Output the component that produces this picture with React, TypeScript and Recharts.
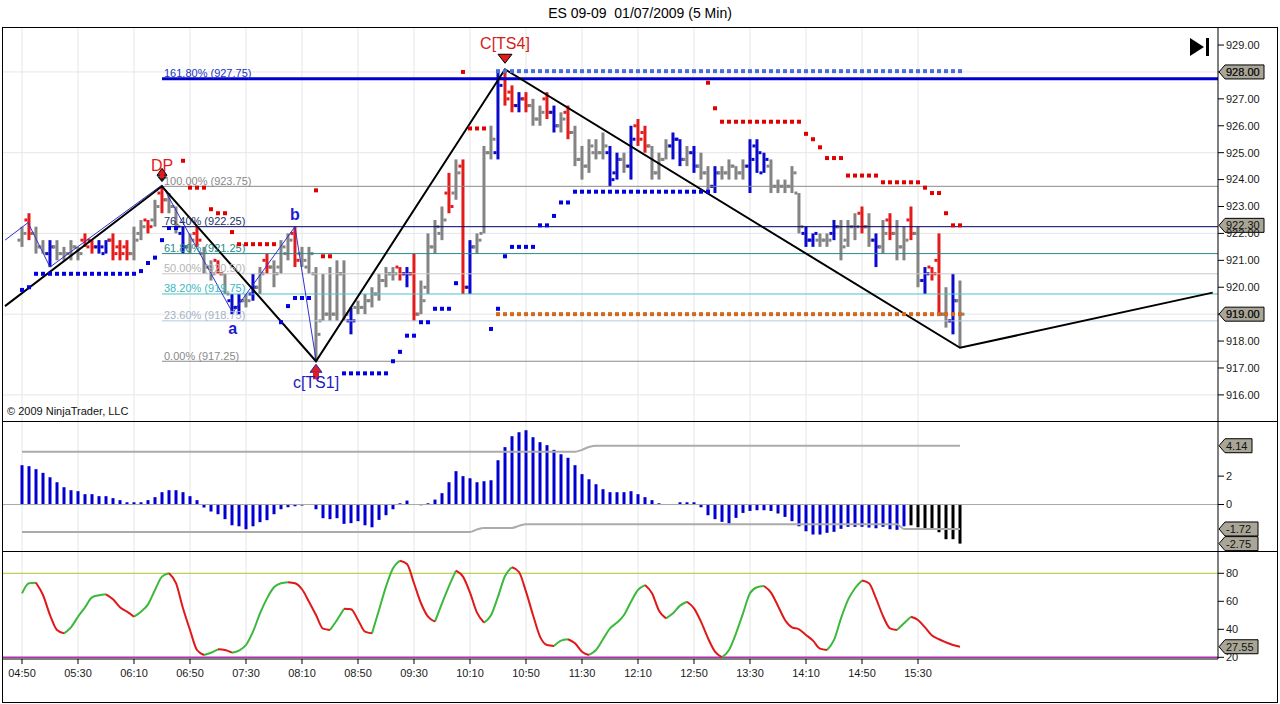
import React from "react";
import {
  ComposedChart,
  Bar,
  Line,
  Scatter,
  XAxis,
  YAxis,
  CartesianGrid,
  ReferenceLine,
  ReferenceDot,
} from "recharts";

const FONT = '"Liberation Sans", Arial, sans-serif';
const X_DOMAIN: [number, number] = [-2.714, 170.857];
const X_END = 170.857;

// time axis: one label every 8 five-minute bars
const timeLabels = ["04:50", "05:30", "06:10", "06:50", "07:30", "08:10", "08:50", "09:30", "10:10", "10:50", "11:30", "12:10", "12:50", "13:30", "14:10", "14:50", "15:30"];
const timeTicks = timeLabels.map((_, k) => k * 8);

// ES 09-09 5 min bars
const opens = [
  921.75, 922.5, 922.0, 921.5, 921.25, 921.5, 921.25, 921.25, 921.5, 921.75,
  921.75, 921.5, 921.25, 921.75, 921.5, 921.5, 921.25, 922.0, 922.5, 922.5,
  923.5, 923.25, 923.0, 922.0, 921.5, 922.0, 921.25, 920.75, 921.0, 920.5,
  919.5, 919.25, 919.5, 919.75, 920.0, 921.0, 920.75, 920.75, 921.25, 922.0,
  921.25, 920.75, 920.5, 918.75, 919.0, 919.0, 920.5, 918.75, 919.25, 919.25,
  919.5, 919.75, 920.25, 920.5, 920.75, 920.5, 920.5, 919.0, 920.0, 921.5,
  922.0, 923.5, 923.5, 924.5, 920.0, 921.5, 922.0, 925.0, 925.0, 927.75,
  927.25, 926.75, 927.0, 926.75, 926.25, 927.0, 926.5, 926.0, 926.5, 925.75,
  924.75, 924.5, 925.0, 925.0, 925.0, 924.25, 924.75, 924.5, 926.0, 925.75,
  925.25, 924.25, 924.75, 925.25, 925.5, 924.75, 925.0, 924.5, 924.25, 923.75,
  924.25, 924.25, 924.5, 924.25, 924.5, 925.25, 924.25, 924.5, 923.75, 923.75,
  923.75, 923.5, 922.0, 921.75, 921.75, 921.75, 922.0, 922.25, 921.75, 922.25,
  922.75, 922.25, 921.75, 921.5, 922.5, 922.0, 921.5, 922.5, 922.0, 920.25,
  920.75, 921.0, 919.0, 918.75, 919.5,
];
const highs = [
  922.25, 922.75, 922.25, 921.75, 921.75, 921.75, 921.5, 921.75, 921.5, 922.0,
  921.75, 921.75, 921.75, 922.0, 921.75, 921.75, 922.25, 922.5, 922.5, 923.25,
  923.75, 923.5, 923.0, 922.25, 922.0, 922.25, 921.5, 921.0, 921.0, 920.5,
  919.75, 919.75, 919.75, 920.5, 920.75, 921.25, 921.0, 921.75, 922.0, 922.25,
  921.5, 921.5, 920.75, 920.5, 920.75, 921.0, 921.0, 919.25, 919.5, 919.75,
  920.0, 920.5, 920.75, 920.75, 920.75, 920.75, 921.25, 920.25, 922.0, 922.5,
  923.0, 924.25, 924.75, 924.75, 921.75, 922.0, 925.25, 926.0, 928.0, 928.0,
  927.5, 927.25, 927.25, 927.0, 926.75, 927.25, 926.75, 926.5, 926.75, 926.0,
  925.25, 925.5, 925.5, 925.75, 925.25, 925.0, 925.0, 926.0, 926.25, 926.0,
  925.25, 925.0, 925.5, 925.75, 925.5, 925.25, 925.25, 925.0, 924.5, 924.5,
  924.5, 924.75, 924.5, 924.75, 925.5, 925.5, 925.0, 924.75, 924.0, 924.0,
  924.5, 923.5, 922.25, 922.0, 922.0, 922.0, 922.5, 922.5, 922.5, 922.75,
  923.0, 922.75, 922.0, 922.5, 922.75, 922.5, 922.25, 923.0, 922.25, 920.75,
  920.75, 922.0, 920.0, 920.5, 920.25,
];
const lows = [
  921.5, 921.75, 921.25, 921.25, 920.75, 921.0, 921.0, 921.0, 921.0, 921.5,
  921.25, 921.25, 921.25, 921.0, 921.0, 921.0, 921.0, 921.75, 922.0, 922.25,
  922.75, 922.75, 922.0, 921.25, 921.25, 921.5, 920.5, 920.25, 920.5, 919.75,
  919.0, 919.0, 919.25, 919.5, 919.75, 920.5, 920.0, 920.5, 921.0, 920.75,
  920.75, 920.5, 917.25, 918.75, 918.75, 918.75, 918.75, 918.25, 919.0, 919.0,
  919.25, 919.5, 920.0, 920.25, 920.25, 920.0, 918.75, 919.0, 919.75, 921.25,
  921.75, 922.75, 923.25, 919.75, 919.75, 921.25, 922.0, 924.75, 924.75, 926.75,
  926.5, 926.5, 926.5, 926.0, 926.0, 926.25, 925.75, 925.75, 925.5, 924.5,
  924.0, 924.25, 924.75, 924.75, 923.75, 924.0, 924.25, 924.0, 925.25, 925.0,
  924.0, 924.0, 924.75, 924.75, 924.5, 924.5, 924.25, 924.0, 923.5, 923.5,
  924.0, 924.0, 924.0, 924.0, 923.5, 924.25, 924.25, 923.5, 923.5, 923.5,
  923.5, 922.0, 921.5, 921.5, 921.5, 921.5, 921.75, 921.0, 921.5, 921.75,
  922.0, 921.5, 920.75, 921.25, 921.75, 921.0, 921.0, 921.75, 920.0, 919.75,
  920.25, 919.0, 918.5, 918.25, 917.75,
];
const closes = [
  922.0, 922.0, 921.5, 921.25, 921.5, 921.25, 921.25, 921.5, 921.25, 921.5,
  921.5, 921.5, 921.75, 921.25, 921.25, 921.25, 921.75, 922.25, 922.25, 923.0,
  923.25, 923.0, 922.25, 921.5, 921.75, 921.75, 920.75, 920.5, 920.5, 919.75,
  919.25, 919.5, 919.5, 920.0, 920.5, 920.75, 920.5, 921.5, 921.75, 921.0,
  921.0, 921.25, 918.25, 919.0, 919.0, 920.5, 919.0, 918.75, 919.25, 919.5,
  919.75, 920.25, 920.5, 920.5, 920.5, 920.5, 919.0, 919.5, 921.5, 922.25,
  922.5, 923.0, 924.25, 920.0, 921.5, 921.75, 925.0, 925.5, 927.5, 927.0,
  926.75, 927.0, 926.75, 926.25, 926.5, 926.5, 926.0, 926.25, 925.75, 924.75,
  924.5, 925.25, 925.0, 925.25, 924.0, 924.75, 924.5, 925.5, 925.5, 925.25,
  924.25, 924.75, 925.25, 925.5, 924.75, 925.0, 924.5, 924.25, 923.75, 924.25,
  924.25, 924.5, 924.25, 924.5, 924.75, 925.0, 924.75, 923.75, 923.75, 923.75,
  924.25, 922.25, 921.75, 922.0, 921.75, 921.75, 922.25, 921.5, 922.25, 922.25,
  922.25, 921.75, 921.5, 922.0, 922.0, 921.5, 921.75, 922.0, 920.25, 920.5,
  920.5, 919.0, 918.75, 919.5, 919.0,
];
// paint bar colour per bar: g = neutral, r = red, b = blue
const paint =
  "grggbggggr" + "rbbrrrggrg" + "rggbgrggrg" + "bbgbgrgggr" + "gggggggbgg" +
  "ggggrbrggg" + "grgrbgggbr" + "rbrggrbgrg" + "ggggbbgbrr" + "gggbbgbggb" +
  "ggggbbbggg" + "ggbbggbggg" + "rgbgrggrgb" + "rrgbg";

// trailing stops, read as runs [price, firstBar, lastBar]
const blueStopRuns: [number, number, number][] = [
  [919.9, 0, 0], [920.0, 1, 1], [920.5, 2, 16], [920.6, 17, 17], [920.9, 18, 18], [921.1, 19, 19],
  [921.75, 20, 20], [922.2, 21, 22], [918.7, 37, 37], [919.3, 38, 38], [919.6, 39, 41],
  [916.8, 46, 52], [917.25, 53, 53], [917.6, 54, 54], [918.2, 55, 56], [918.7, 57, 58],
  [919.2, 59, 61], [920.15, 62, 62], [918.45, 67, 67], [919.2, 68, 68], [921.15, 69, 69],
  [921.5, 70, 73], [922.3, 74, 75], [922.65, 76, 76], [923.15, 77, 78], [923.55, 79, 98],
];
const redStopRuns: [number, number, number][] = [
  [924.7, 23, 23], [923.7, 24, 26], [922.9, 27, 27], [922.75, 28, 29], [922.05, 30, 30],
  [921.6, 31, 36], [923.6, 42, 42], [921.15, 43, 44], [928.0, 63, 63], [925.9, 64, 66],
  [927.6, 98, 98], [926.65, 99, 99], [926.15, 100, 111], [925.7, 112, 112], [925.5, 113, 113],
  [925.2, 114, 114], [924.8, 115, 117], [924.15, 118, 122], [923.9, 123, 128], [923.7, 129, 129],
  [923.5, 130, 131], [922.75, 132, 132], [922.3, 133, 134],
];
const targetUpRuns: [number, number, number][] = [[928.03, 68, 134]];
const targetDownRuns: [number, number, number][] = [[919.0, 68, 134]];

// wave lines
const zigzagMain = [
  { i: -2.43, v: 919.3 }, { i: 20, v: 923.75 }, { i: 42, v: 917.25 },
  { i: 69, v: 928.1 }, { i: 134, v: 917.75 }, { i: 170.1, v: 919.8 },
];
const zigzagMinor = [
  { i: -2.43, v: 921.75 }, { i: 0.86, v: 922.4 }, { i: 4, v: 920.75 }, { i: 20, v: 923.8 },
  { i: 30.1, v: 919.05 }, { i: 39, v: 922.25 }, { i: 42, v: 917.3 },
];

// fibonacci levels drawn from the DP bar
const fibStart = 20;
const fibPct = ["161.80%", "100.00%", "76.40%", "61.80%", "50.00%", "38.20%", "23.60%", "0.00%"];
const fibPrice = [927.75, 923.75, 922.25, 921.25, 920.5, 919.75, 918.75, 917.25];
const fibLine = ["#0000CC", "#8A8A8A", "#000066", "#2A8A8A", "#C8C8C8", "#4CC4C4", "#B8C6DC", "#8A8A8A"];
const fibText = ["#2233BB", "#8A8A8A", "#223366", "#2A8A8A", "#B4B4B4", "#3CB8C0", "#A4B2C8", "#8A8A8A"];

// oscillator histogram and its bands
const osc = [
  2.77, 2.70, 2.49, 2.23, 1.92, 1.57, 1.22, 1.01, 0.94, 0.73,
  0.73, 0.59, 0.59, 0.45, 0.31, 0.16, 0.16, 0.16, 0.31, 0.52,
  0.87, 1.01, 1.01, 0.87, 0.59, 0.31, -0.21, -0.49, -0.68, -1.03,
  -1.46, -1.53, -1.74, -1.53, -1.24, -1.10, -0.68, -0.33, -0.19, -0.12,
  -0.07, 0.0, -0.33, -0.96, -1.03, -0.96, -1.36, -1.31, -1.17, -1.46,
  -1.60, -1.08, -0.75, -0.33, 0.09, 0.28, 0.0, -0.05, 0.09, 0.35,
  0.80, 1.57, 2.35, 2.00, 1.85, 1.57, 1.64, 1.71, 3.12, 4.04,
  4.81, 5.09, 5.23, 4.74, 4.39, 4.18, 3.85, 3.54, 3.29, 2.77,
  2.14, 1.78, 1.43, 1.08, 0.87, 0.87, 0.87, 0.94, 0.73, 0.52,
  0.31, 0.09, 0.02, 0.0, 0.16, 0.16, 0.16, -0.19, -0.75, -1.03,
  -1.22, -1.34, -0.94, -0.59, -0.45, -0.40, -0.40, -0.45, -0.63, -0.87,
  -1.17, -1.53, -1.88, -2.11, -2.11, -1.99, -1.92, -1.71, -1.57, -1.57,
  -1.57, -1.62, -1.67, -1.57, -1.74, -1.78, -1.53, -1.46, -1.60, -1.67,
  -1.74, -1.95, -2.44, -2.44, -2.75,
];
const oscBlackFrom = 127;
const upperBandRuns: [number, number, number][] = [[3.72, 0, 79], [3.85, 80, 80], [4.05, 81, 81], [4.14, 82, 134]];
const lowerBandRuns: [number, number, number][] = [[-1.93, 0, 64], [-1.75, 65, 65], [-1.65, 66, 70], [-1.5, 71, 71], [-1.39, 72, 125], [-1.72, 126, 134]];

// stochastic
const stoch = [
  65.7, 72.9, 73.3, 64.5, 50.2, 39.5, 37.1, 41.4, 49.0, 55.7,
  62.8, 64.3, 65.0, 61.4, 55.7, 52.6, 49.0, 52.6, 57.8, 68.1,
  77.6, 80.0, 72.9, 55.0, 39.5, 25.2, 21.7, 23.3, 25.7, 25.2,
  23.3, 24.8, 28.8, 38.3, 51.4, 62.1, 70.0, 72.9, 73.6, 72.9,
  68.6, 59.7, 50.2, 40.5, 39.5, 46.7, 54.7, 54.3, 46.7, 38.3,
  37.1, 53.8, 70.5, 83.6, 89.0, 86.6, 72.9, 58.6, 49.0, 45.5,
  58.6, 70.9, 81.9, 77.6, 66.2, 51.9, 44.8, 50.0, 63.3, 78.1,
  84.3, 80.9, 66.9, 50.2, 34.8, 28.8, 28.1, 31.9, 32.9, 30.0,
  24.0, 21.7, 25.2, 32.9, 40.7, 44.8, 50.2, 59.7, 68.1, 71.6,
  65.7, 53.3, 47.8, 51.4, 56.9, 59.7, 55.0, 45.5, 33.6, 24.0,
  20.0, 25.2, 37.1, 51.4, 65.7, 70.0, 70.9, 66.2, 56.7, 46.7,
  41.4, 40.0, 36.0, 31.9, 26.2, 25.2, 32.4, 47.8, 61.0, 69.3,
  74.8, 72.9, 62.1, 49.5, 40.7, 39.5, 44.3, 49.0, 46.7, 41.4,
  35.5, 32.9, 30.7, 28.8, 27.55,
];

// ---------- derived tables ----------
const PAINT: Record<string, string> = { g: "#848484", r: "#E41B1B", b: "#0A0ACC" };
const expandRuns = (runs: [number, number, number][]) =>
  runs.flatMap(([v, a, b]) => Array.from({ length: b - a + 1 }, (_, k) => ({ i: a + k, v })));
const runsToSeries = (runs: [number, number, number][]) => {
  const out: number[] = [];
  expandRuns(runs).forEach((p) => (out[p.i] = p.v));
  return out;
};

const bars = opens.map((o, i) => ({
  i, o, h: highs[i], l: lows[i], c: closes[i],
  range: [lows[i], highs[i]],
  col: PAINT[paint[i]],
}));

const upperBand = runsToSeries(upperBandRuns);
const lowerBand = runsToSeries(lowerBandRuns);
const oscRows = osc.map((v, i) => ({
  i, v, up: upperBand[i], lo: lowerBand[i], col: i >= oscBlackFrom ? "#000000" : "#0000D0",
}));

const stochRows = stoch.map((v, i) => {
  const rising = (k: number) => stoch[k + 1] > stoch[k];
  const last = stoch.length - 1;
  const inUp = (i > 0 && rising(i - 1)) || (i < last && rising(i));
  const inDn = (i > 0 && !rising(i - 1)) || (i < last && !rising(i));
  return { i, up: inUp ? v : null, dn: inDn ? v : null };
});

// ---------- shapes ----------
const OhlcShape = (p: any) => {
  const { x, y, width, height, payload } = p;
  if (x == null || y == null || !payload) return null;
  const cx = x + width / 2;
  const top = Math.min(y, y + height);
  const hgt = Math.max(Math.abs(height), 1);
  const span = payload.h - payload.l;
  const py = (v: number) => (span > 0 ? top + ((payload.h - v) / span) * hgt : top);
  return (
    <g fill={payload.col}>
      <rect x={cx - 1.5} y={top} width={3} height={hgt} />
      <rect x={cx - 4.5} y={py(payload.o) - 1.5} width={3} height={3} />
      <rect x={cx + 1.5} y={py(payload.c) - 1.5} width={3} height={3} />
    </g>
  );
};

const HistShape = (p: any) => {
  const { x, y, width, height, payload } = p;
  if (x == null || y == null || !payload) return null;
  const top = Math.min(y, y + height);
  return <rect x={x + width / 2 - 1.5} y={top} width={3} height={Math.abs(height)} fill={payload.col} />;
};

const squareDot = (color: string) => (p: any) =>
  p.cx == null ? <g /> : <rect x={p.cx - 2} y={p.cy - 2} width={4} height={4} fill={color} />;

const tagShape = (text: string) => (p: any) => {
  const x0 = p.cx + 1;
  const y0 = p.cy;
  const w = text.length * 6 + 3;
  return (
    <g>
      <polygon
        points={`${x0},${y0} ${x0 + 6},${y0 - 7} ${x0 + 6 + w},${y0 - 7} ${x0 + 6 + w},${y0 + 7} ${x0 + 6},${y0 + 7}`}
        fill="#A9A597"
        stroke="#000"
        strokeWidth={1}
      />
      <text x={x0 + 7} y={y0 + 4} fontSize={11} fontFamily={FONT} fill="#111">{text}</text>
    </g>
  );
};

const fibLabel = (text: string, color: string) => (p: any) => (
  <text x={p.cx + 2} y={p.cy - 1.5} fontSize={11} fontFamily={FONT} fill={color}>{text}</text>
);

const markerDP = (p: any) => (
  <g>
    <polygon points={`${p.cx},${p.cy - 18} ${p.cx - 5},${p.cy - 11} ${p.cx + 5},${p.cy - 11}`} fill="#E41B1B" stroke="#000" strokeWidth={1} />
    <polygon points={`${p.cx - 5},${p.cy - 10} ${p.cx + 5},${p.cy - 10} ${p.cx},${p.cy - 4}`} fill="#1a1a1a" />
    <rect x={p.cx - 2} y={p.cy - 12} width={4} height={4} fill="#E41B1B" />
    <text x={p.cx} y={p.cy - 15} textAnchor="middle" fontSize={16} fontFamily={FONT} fill="#E41B1B">DP</text>
  </g>
);
const markerTS1 = (p: any) => (
  <g>
    <polygon points={`${p.cx},${p.cy + 3} ${p.cx - 6},${p.cy + 11} ${p.cx + 6},${p.cy + 11}`} fill="#E41B1B" stroke="#2020C0" strokeWidth={1} />
    <rect x={p.cx - 3} y={p.cy + 11} width={6} height={7} fill="#E41B1B" />
    <text x={p.cx} y={p.cy + 27} textAnchor="middle" fontSize={16} fontFamily={FONT} fill="#2020C0">c[TS1]</text>
  </g>
);
const markerTS4 = (p: any) => (
  <g>
    <polygon points={`${p.cx - 7},${p.cy - 15} ${p.cx + 7},${p.cy - 15} ${p.cx},${p.cy - 6}`} fill="#E41B1B" stroke="#000" strokeWidth={1} />
    <text x={p.cx} y={p.cy - 20} textAnchor="middle" fontSize={16} fontFamily={FONT} fill="#D42020">C[TS4]</text>
  </g>
);
const waveLetter = (text: string, dy: number) => (p: any) => (
  <text x={p.cx} y={p.cy + dy} textAnchor="middle" fontSize={16} fontWeight="bold" fontFamily={FONT} fill="#1A1AD0">{text}</text>
);

const axisTick = { fontSize: 11, fill: "#1a1a1a", fontFamily: FONT };

const xAxisHidden = (
  <XAxis dataKey="i" type="number" domain={X_DOMAIN} allowDataOverflow ticks={timeTicks} hide />
);

// ---------- panels ----------
const PricePanel = () => (
  <ComposedChart width={1280} height={394} data={bars} margin={{ top: 0, right: 0, bottom: 0, left: 3 }}>
    <CartesianGrid stroke="#E6E6E6" horizontalValues={[916, 919, 922, 925, 928]} verticalValues={timeTicks} />
    {xAxisHidden}
    <YAxis
      orientation="right"
      width={62}
      type="number"
      domain={[915.03, 929.67]}
      allowDataOverflow
      ticks={[916, 917, 918, 919, 920, 921, 922, 923, 924, 925, 926, 927, 928, 929]}
      tickFormatter={(v: number) => v.toFixed(2)}
      tick={axisTick}
      tickSize={6}
      tickMargin={2}
      axisLine={{ stroke: "#000" }}
      tickLine={{ stroke: "#000" }}
    />
    {fibPrice.map((p, k) => (
      <ReferenceLine
        key={`fib${k}`}
        segment={[{ x: fibStart, y: p }, { x: X_END, y: p }]}
        stroke={fibLine[k]}
        strokeWidth={k === 0 ? 3 : 1}
        ifOverflow="visible"
      />
    ))}
    {fibPrice.map((p, k) => (
      <ReferenceDot
        key={`fibl${k}`}
        x={fibStart}
        y={p}
        ifOverflow="visible"
        shape={fibLabel(`${fibPct[k]} (${p.toFixed(2)})`, fibText[k])}
      />
    ))}
    <Scatter data={expandRuns(targetUpRuns)} dataKey="v" shape={squareDot("#4A6FD8")} isAnimationActive={false} />
    <Scatter data={expandRuns(targetDownRuns)} dataKey="v" shape={squareDot("#D2691E")} isAnimationActive={false} />
    <Line data={zigzagMinor} dataKey="v" type="linear" stroke="#3030D0" strokeWidth={1} dot={false} isAnimationActive={false} />
    <Line data={zigzagMain} dataKey="v" type="linear" stroke="#000" strokeWidth={2} dot={false} isAnimationActive={false} />
    <Bar dataKey="range" barSize={3} shape={OhlcShape} isAnimationActive={false} />
    <Scatter data={expandRuns(blueStopRuns)} dataKey="v" shape={squareDot("#0000E0")} isAnimationActive={false} />
    <Scatter data={expandRuns(redStopRuns)} dataKey="v" shape={squareDot("#E00000")} isAnimationActive={false} />
    <ReferenceDot x={20} y={923.75} ifOverflow="visible" shape={markerDP} />
    <ReferenceDot x={42} y={917.25} ifOverflow="visible" shape={markerTS1} />
    <ReferenceDot x={69} y={928.1} ifOverflow="visible" shape={markerTS4} />
    <ReferenceDot x={30.1} y={919.05} ifOverflow="visible" shape={waveLetter("a", 21)} />
    <ReferenceDot x={39} y={922.25} ifOverflow="visible" shape={waveLetter("b", -7)} />
    <ReferenceDot x={X_END} y={928.0} ifOverflow="visible" shape={tagShape("928.00")} />
    <ReferenceDot x={X_END} y={922.3} ifOverflow="visible" shape={tagShape("922.30")} />
    <ReferenceDot x={X_END} y={919.0} ifOverflow="visible" shape={tagShape("919.00")} />
  </ComposedChart>
);

const OscPanel = () => (
  <ComposedChart width={1280} height={129} data={oscRows} margin={{ top: 0, right: 0, bottom: 0, left: 3 }}>
    <CartesianGrid stroke="#E6E6E6" horizontal={false} verticalValues={timeTicks} />
    {xAxisHidden}
    <YAxis
      orientation="right"
      width={62}
      type="number"
      domain={[-3.27, 5.81]}
      allowDataOverflow
      ticks={[0, 2]}
      tick={axisTick}
      tickSize={6}
      tickMargin={2}
      axisLine={{ stroke: "#000" }}
      tickLine={{ stroke: "#000" }}
    />
    <ReferenceLine y={0} stroke="#A8A8A8" strokeWidth={1} />
    <Line dataKey="up" type="monotone" stroke="#ABABAB" strokeWidth={2} dot={false} isAnimationActive={false} />
    <Line dataKey="lo" type="monotone" stroke="#ABABAB" strokeWidth={2} dot={false} isAnimationActive={false} />
    <Bar dataKey="v" barSize={3} shape={HistShape} isAnimationActive={false} />
    <ReferenceDot x={X_END} y={4.14} ifOverflow="visible" shape={tagShape("4.14")} />
    <ReferenceDot x={X_END} y={-1.72} ifOverflow="visible" shape={tagShape("-1.72")} />
    <ReferenceDot x={X_END} y={-2.75} ifOverflow="visible" shape={tagShape("-2.75")} />
  </ComposedChart>
);

const StochPanel = () => (
  <ComposedChart width={1280} height={151} data={stochRows} margin={{ top: 0, right: 0, bottom: 14, left: 3 }}>
    <CartesianGrid stroke="#E6E6E6" horizontal={false} verticalValues={timeTicks} />
    <XAxis
      dataKey="i"
      type="number"
      domain={X_DOMAIN}
      allowDataOverflow
      ticks={timeTicks}
      interval={0}
      tickFormatter={(v: number) => timeLabels[Math.round(v / 8)] ?? ""}
      tick={axisTick}
      tickSize={5}
      tickMargin={5}
      height={30}
      axisLine={{ stroke: "#000" }}
      tickLine={{ stroke: "#000" }}
    />
    <YAxis
      orientation="right"
      width={62}
      type="number"
      domain={[18.8, 95.2]}
      allowDataOverflow
      ticks={[20, 40, 60, 80]}
      tick={axisTick}
      tickSize={6}
      tickMargin={2}
      axisLine={{ stroke: "#000" }}
      tickLine={{ stroke: "#000" }}
    />
    <ReferenceLine y={80} stroke="#A8C832" strokeWidth={1} />
    <ReferenceLine y={20} stroke="#B030B0" strokeWidth={1.5} />
    <Line dataKey="up" type="monotone" stroke="#3CB83C" strokeWidth={2} dot={false} connectNulls={false} isAnimationActive={false} />
    <Line dataKey="dn" type="monotone" stroke="#E01818" strokeWidth={2} dot={false} connectNulls={false} isAnimationActive={false} />
    <ReferenceDot x={X_END} y={27.55} ifOverflow="visible" shape={tagShape("27.55")} />
  </ComposedChart>
);

export default function App() {
  return (
    <div
      style={{
        position: "absolute",
        left: 0,
        top: 0,
        width: 1280,
        height: 704,
        background: "#fff",
        fontFamily: FONT,
        overflow: "hidden",
      }}
    >
      <div style={{ position: "absolute", left: 0, top: 5, width: 1280, textAlign: "center", fontSize: 14, lineHeight: "16px", whiteSpace: "pre", color: "#000" }}>
        ES 09-09  01/07/2009 (5 Min)
      </div>
      <div style={{ position: "absolute", left: 0, top: 27 }}>
        <PricePanel />
      </div>
      <div style={{ position: "absolute", left: 0, top: 422 }}>
        <OscPanel />
      </div>
      <div style={{ position: "absolute", left: 0, top: 552 }}>
        <StochPanel />
      </div>
      <div style={{ position: "absolute", left: 7, top: 405, fontSize: 11, lineHeight: "12px", color: "#111" }}>
        © 2009 NinjaTrader, LLC
      </div>
      <svg width={1280} height={704} style={{ position: "absolute", left: 0, top: 0, pointerEvents: "none" }}>
        <rect x={2.5} y={27.5} width={1275} height={675} fill="none" stroke="#000" strokeWidth={1} />
        <line x1={2} y1={421.5} x2={1278} y2={421.5} stroke="#000" strokeWidth={1} />
        <line x1={2} y1={551.5} x2={1278} y2={551.5} stroke="#000" strokeWidth={1} />
        <polygon points="1190,38 1190,56 1204,47" fill="#000" />
        <rect x={1206} y={38} width={3} height={18} fill="#000" />
      </svg>
    </div>
  );
}
